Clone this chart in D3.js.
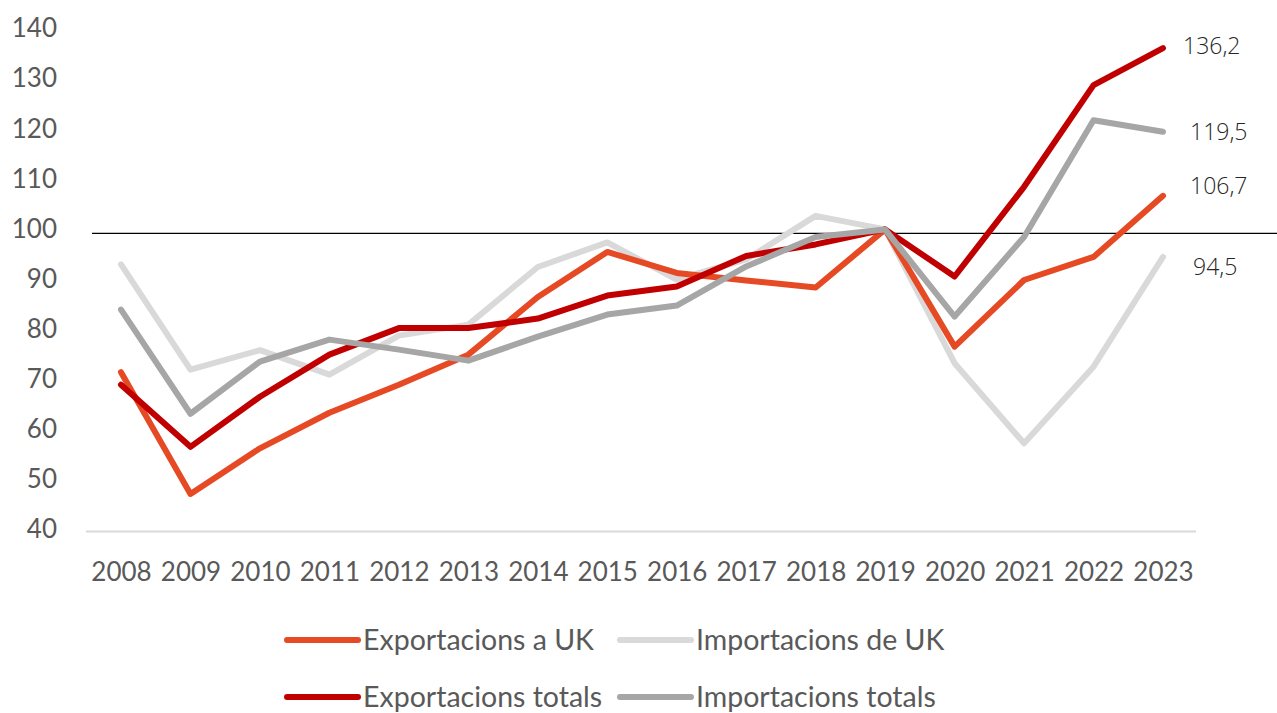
<!DOCTYPE html>
<html>
<head>
<meta charset="utf-8">
<script src="https://cdn.jsdelivr.net/npm/d3@7"></script>
<style>
  html, body { margin: 0; padding: 0; background: #fff; }
  svg { display: block; }
</style>
</head>
<body>
<svg id="chart"></svg>
<script>
// data (index, 2019 = 100)
let years = ["2008","2009","2010","2011","2012","2013","2014","2015","2016","2017","2018","2019","2020","2021","2022","2023"];
let exportUK     = [71.5, 47.2, 56.3, 63.4, 69.0, 75.0, 86.5, 95.5, 91.3, 89.8, 88.4, 100, 76.6, 89.9, 94.5, 106.7];
let importUK     = [93.0, 72.0, 75.9, 71.0, 78.8, 81.0, 92.5, 97.4, 90.0, 94.0, 102.7, 100, 73.3, 57.3, 72.6, 94.5];
let exportTotal  = [69.0, 56.6, 66.6, 75.0, 80.3, 80.3, 82.2, 86.8, 88.6, 94.7, 97.0, 100, 90.6, 108.5, 128.8, 136.2];
let importTotal  = [84.0, 63.2, 73.6, 78.0, 76.0, 73.8, 78.6, 83.0, 84.8, 92.6, 98.5, 100, 82.6, 98.5, 121.8, 119.5];
let yTicks = [40, 50, 60, 70, 80, 90, 100, 110, 120, 130, 140];
let refValue = 100;

let series = [
    {name: "Importacions de UK", values: importUK, color: "#d9d9d9", label: "94,5", dx: 30, dy: 10},
    {name: "Exportacions a UK", values: exportUK, color: "#e64a25", label: "106,7", dx: 27, dy: -10},
    {name: "Exportacions totals", values: exportTotal, color: "#c00000", label: "136,2", dx: 20, dy: -2},
    {name: "Importacions totals", values: importTotal, color: "#a6a6a6", label: "119,5", dx: 27, dy: 0}
];
let legendOrder = ["Exportacions a UK", "Importacions de UK", "Exportacions totals", "Importacions totals"];

let w = 1277, h = 713;
let font = "Lato, 'Open Sans', sans-serif";

let svg = d3.select("#chart")
    .attr("width", w)
    .attr("height", h);

// scales
let xScale = d3.scalePoint()
    .domain(years)
    .range([121, 1163]);

let yScale = d3.scaleLinear()
    .domain([40, 140])
    .range([530, 29]);

// baseline gridline at 40
svg.append("line")
    .attr("x1", 86).attr("x2", 1196)
    .attr("y1", yScale(40) + 1.5).attr("y2", yScale(40) + 1.5)
    .attr("stroke", "#d9d9d9")
    .attr("stroke-width", 2);

// y axis labels
let yAxis = d3.axisLeft(yScale).tickValues(yTicks).tickSize(0).tickPadding(0);
let yAxisGroup = svg.append("g")
    .attr("transform", "translate(57,0)")
    .call(yAxis);
yAxisGroup.select(".domain").remove();
yAxisGroup.selectAll("text")
    .attr("dy", "0.3em")
    .attr("font-family", font)
    .attr("font-size", "26px")
    .attr("fill", "#595959");

// x axis labels
let xAxis = d3.axisBottom(xScale).tickSize(0).tickPadding(0);
let xAxisGroup = svg.append("g")
    .attr("transform", "translate(0,572)")
    .call(xAxis);
xAxisGroup.select(".domain").remove();
xAxisGroup.selectAll("text")
    .attr("dy", "0.35em")
    .attr("font-family", font)
    .attr("font-size", "26px")
    .attr("fill", "#595959");

// reference line at 100 (drawn a few px under the data level, as in the original)
svg.append("line")
    .attr("x1", 92).attr("x2", w)
    .attr("y1", yScale(refValue) + 4).attr("y2", yScale(refValue) + 4)
    .attr("stroke", "#000")
    .attr("stroke-width", 1.2);

// lines
let line = d3.line()
    .x((d, i) => xScale(years[i]))
    .y(d => yScale(d));

svg.selectAll(".series")
    .data(series)
    .enter()
    .append("path")
    .attr("class", "series")
    .attr("d", d => line(d.values))
    .attr("fill", "none")
    .attr("stroke", d => d.color)
    .attr("stroke-width", 6)
    .attr("stroke-linejoin", "round")
    .attr("stroke-linecap", "round");

// end labels
svg.selectAll(".endlabel")
    .data(series)
    .enter()
    .append("text")
    .attr("class", "endlabel")
    .attr("x", d => xScale(years[years.length - 1]) + d.dx)
    .attr("y", d => yScale(d.values[d.values.length - 1]) + d.dy)
    .attr("dy", "0.35em")
    .attr("font-family", "'Open Sans', sans-serif")
    .attr("font-weight", 300)
    .attr("font-size", "23px")
    .attr("fill", "#262626")
    .text(d => d.label);

// legend
let legendPos = [
    {x: 287, y: 640}, {x: 620, y: 640},
    {x: 287, y: 697}, {x: 620, y: 697}
];
let legend = svg.selectAll(".legend")
    .data(legendOrder.map(n => series.find(s => s.name === n)))
    .enter()
    .append("g")
    .attr("class", "legend")
    .attr("transform", (d, i) => `translate(${legendPos[i].x},${legendPos[i].y})`);

legend.append("line")
    .attr("x1", 0).attr("x2", 71)
    .attr("stroke", d => d.color)
    .attr("stroke-width", 6)
    .attr("stroke-linecap", "round");

legend.append("text")
    .attr("x", 76)
    .attr("dy", "0.35em")
    .attr("font-family", font)
    .attr("font-size", "28.5px")
    .attr("fill", "#595959")
    .text(d => d.name);
</script>
</body>
</html>
